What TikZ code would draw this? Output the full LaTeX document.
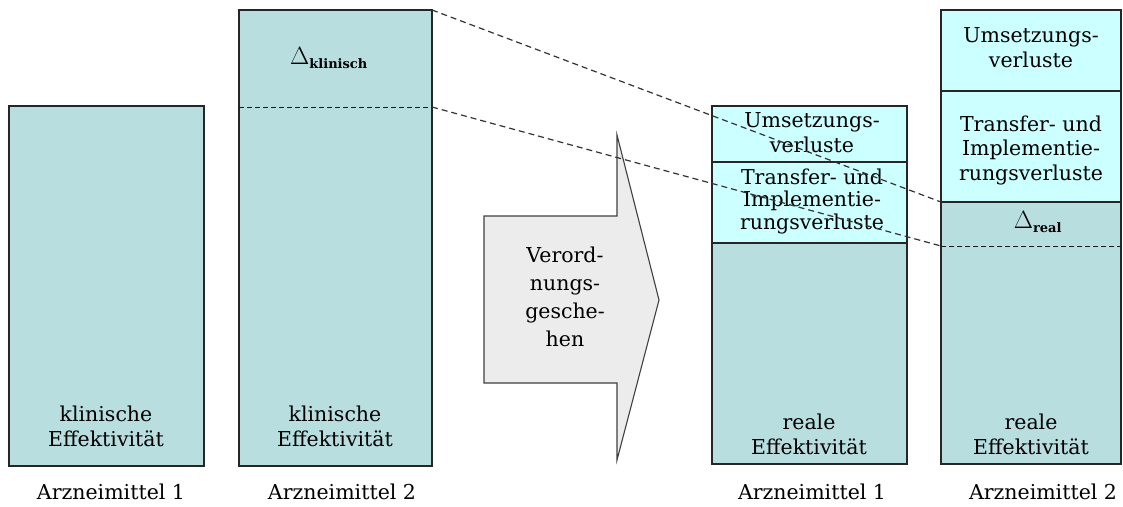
\documentclass[tikz,border=0pt]{standalone}
\usepackage{fontspec}
\setmainfont{DejaVu Serif}
\begin{document}
\begin{tikzpicture}[x=1pt,y=-1pt,
  font=\fontsize{20.5}{25}\selectfont,
  outline/.style={draw=black!85, line width=1.2pt},
  tealbox/.style={outline, fill=tealfill, inner sep=0pt, outer sep=0pt, anchor=north west},
  cyanbox/.style={outline, fill=cyanfill, inner sep=0pt, outer sep=0pt, anchor=north west},
  label/.style={align=center, inner sep=0pt},
  cut/.style={dashed, dash pattern=on 5pt off 3pt, line width=1pt, draw=black!90},
  link/.style={dashed, dash pattern=on 6pt off 4pt, line width=1.2pt, draw=black!80}]
\definecolor{tealfill}{RGB}{184,222,224}
\definecolor{cyanfill}{RGB}{204,255,255}
\definecolor{arrowfill}{RGB}{236,236,236}
\useasboundingbox (0,0) rectangle (1123,506);
\fill[white] (0,0) rectangle (1123,506);

% clinical effectiveness, drug 1 and drug 2
\node[tealbox, minimum width=195, minimum height=360] (a1) at (9,106) {};
\node[tealbox, minimum width=193, minimum height=456] (a2) at (239,10) {};
\coordinate (a2cut) at (432,107);
\draw[cut] (239,107) -- (a2cut);

% prescription process arrow
\draw[draw=black!75, line width=1.1pt, fill=arrowfill] (484,216) -- (617,216) -- (617,135) -- (659,300)
  -- (617,460) -- (617,383) -- (484,383) -- cycle;
\node[label, font=\fontsize{20.5}{28}\selectfont] (proc) at (565,297) {Verord-\\nungs-\\gesche-\\hen};

% real effectiveness, drug 1
\node[cyanbox, minimum width=195, minimum height=56] (b1u) at (712,106) {};
\node[cyanbox, minimum width=195, minimum height=81] (b1t) at (712,162) {};
\node[tealbox, minimum width=195, minimum height=221] (b1r) at (712,243) {};

% real effectiveness, drug 2
\node[cyanbox, minimum width=180, minimum height=81] (b2u) at (941,10) {};
\node[cyanbox, minimum width=180, minimum height=111] (b2t) at (941,91) {};
\node[tealbox, minimum width=180, minimum height=262] (b2r) at (941,202) {};
\coordinate (b2cut) at (941,246);
\draw[cut] (b2cut) -- (1121,246);

% texts inside the bars
\node[label] (ta1) at (106,426) {klinische\\Effektivität};
\node[label] (ta2) at (335,426) {klinische\\Effektivität};
\node[label, font=\fontsize{23}{23}\selectfont] (dk) at (329,58) {$\Delta_{\textbf{\fontsize{13}{13}\selectfont klinisch}}$};
\node[label] (tb1u) at (812,133) {Umsetzungs-\\verluste};
\node[label, font=\fontsize{20.5}{22.5}\selectfont] (tb1t) at (812,201) {Transfer- und\\Implementie-\\rungsverluste};
\node[label] (tb1r) at (809,434) {reale\\Effektivität};
\node[label] (tb2u) at (1031,48) {Umsetzungs-\\verluste};
\node[label, font=\fontsize{20.5}{24.5}\selectfont] (tb2t) at (1031,150) {Transfer- und\\Implementie-\\rungsverluste};
\node[label, font=\fontsize{23}{23}\selectfont] (dr) at (1038,222) {$\Delta_{\textbf{\fontsize{13}{13}\selectfont real}}$};
\node[label] (tb2r) at (1031,434) {reale\\Effektivität};

% drug names below the bars
\node[label] (n1) at (111,492) {Arzneimittel 1};
\node[label] (n2) at (342,492) {Arzneimittel 2};
\node[label] (n3) at (812,492) {Arzneimittel 1};
\node[label] (n4) at (1043,492) {Arzneimittel 2};

% projection of the clinical difference onto the real one
\draw[link] (a2.north east) -- (b2r.north west);
\draw[link] (a2cut) -- (b2cut);
\end{tikzpicture}
\end{document}
